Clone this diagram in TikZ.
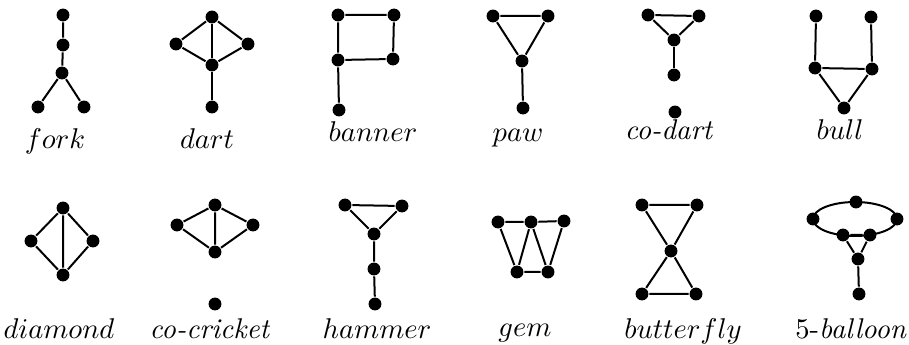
\documentclass[tikz,border=0pt]{standalone}
\usepackage{amsmath,amssymb}
\usepackage{tikz}

\begin{document}
\begin{tikzpicture}[x=0.35pt, y=-0.35pt, line width=0.7pt,
    vtx/.style={circle, fill=black, inner sep=0pt, minimum size=4.5pt},
    lbl/.style={anchor=base, inner sep=0pt}]
  \useasboundingbox (0,0) rectangle (909,345);

  % fork
  \node[vtx] (fa) at (63,15) {};
  \node[vtx] (fb) at (63,45) {};
  \node[vtx] (fc) at (62,73) {};
  \node[vtx] (fd) at (38,107) {};
  \node[vtx] (fe) at (84,107) {};
  \draw (fa) -- (fb) -- (fc) -- (fd);
  \draw (fc) -- (fe);
  \node[lbl] (lfork) at (55,149) {$fork$};

  % dart
  \node[vtx] (da) at (212,17) {};
  \node[vtx] (db) at (176,44) {};
  \node[vtx] (dc) at (248,44) {};
  \node[vtx] (dd) at (212,65) {};
  \node[vtx] (de) at (212,107) {};
  \draw (db) -- (da) -- (dc) -- (dd) -- (db);
  \draw (da) -- (dd) -- (de);
  \node[lbl] (ldart) at (207,149) {$dart$};

  % banner
  \node[vtx] (ba) at (338,15) {};
  \node[vtx] (bb) at (394,15) {};
  \node[vtx] (bc) at (393,59) {};
  \node[vtx] (bd) at (338,60) {};
  \node[vtx] (be) at (339,110) {};
  \draw (ba) -- (bb) -- (bc) -- (bd) -- (ba);
  \draw (bd) -- (be);
  \node[lbl] (lbanner) at (373,142) {$banner$};

  % paw
  \node[vtx] (pa) at (493,16) {};
  \node[vtx] (pb) at (548,16) {};
  \node[vtx] (pc) at (522,61) {};
  \node[vtx] (pd) at (523,108) {};
  \draw (pa) -- (pb) -- (pc) -- (pa);
  \draw (pc) -- (pd);
  \node[lbl] (lpaw) at (518,142) {$paw$};

  % co-dart
  \node[vtx] (ca) at (648,15) {};
  \node[vtx] (cb) at (699,16) {};
  \node[vtx] (cc) at (674,40) {};
  \node[vtx] (cd) at (674,75) {};
  \node[vtx] (ce) at (675,112) {};
  \draw (ca) -- (cb) -- (cc) -- (ca);
  \draw (cc) -- (cd);
  \node[lbl] (lcodart) at (669,140) {\textit{co-dart}};

  % bull
  \node[vtx] (ua) at (816,16) {};
  \node[vtx] (ub) at (871,17) {};
  \node[vtx] (uc) at (815,68) {};
  \node[vtx] (ud) at (872,69) {};
  \node[vtx] (ue) at (844,108) {};
  \draw (ua) -- (uc) -- (ud) -- (ub);
  \draw (uc) -- (ue) -- (ud);
  \node[lbl] (lbull) at (840,140) {$bull$};

  % diamond
  \node[vtx] (ma) at (63,208) {};
  \node[vtx] (mb) at (31,241) {};
  \node[vtx] (mc) at (93,241) {};
  \node[vtx] (md) at (63,275) {};
  \draw (ma) -- (mb) -- (md) -- (mc) -- (ma) -- (md);
  \node[lbl] (ldiamond) at (59,339) {$diamond$};

  % co-cricket
  \node[vtx] (ka) at (215,205) {};
  \node[vtx] (kb) at (177,225) {};
  \node[vtx] (kc) at (253,225) {};
  \node[vtx] (kd) at (215,252) {};
  \node[vtx] (ke) at (215,304) {};
  \draw (ka) -- (kb) -- (kd) -- (kc) -- (ka) -- (kd);
  \node[lbl] (lcocricket) at (210,339) {\textit{co-cricket}};

  % hammer
  \node[vtx] (ha) at (345,205) {};
  \node[vtx] (hb) at (402,206) {};
  \node[vtx] (hc) at (374,234) {};
  \node[vtx] (hd) at (374,269) {};
  \node[vtx] (he) at (375,304) {};
  \draw (ha) -- (hb) -- (hc) -- (ha);
  \draw (hc) -- (hd) -- (he);
  \node[lbl] (lhammer) at (377,339) {$hammer$};

  % gem
  \node[vtx] (ga) at (498,222) {};
  \node[vtx] (gb) at (531,222) {};
  \node[vtx] (gc) at (564,221) {};
  \node[vtx] (gd) at (517,272) {};
  \node[vtx] (ge) at (548,272) {};
  \draw (ga) -- (gb) -- (gc) -- (ge) -- (gd) -- (ga);
  \draw (gd) -- (gb) -- (ge);
  \node[lbl] (lgem) at (525,337) {$gem$};

  % butterfly
  \node[vtx] (ya) at (642,205) {};
  \node[vtx] (yb) at (697,205) {};
  \node[vtx] (yc) at (671,251) {};
  \node[vtx] (yd) at (642,294) {};
  \node[vtx] (ye) at (696,294) {};
  \draw (ya) -- (yb) -- (yc) -- (yd) -- (ye) -- (yc) -- (ya);
  \node[lbl] (lbutterfly) at (683,339) {$butterfly$};

  % 5-balloon
  \coordinate (o0) at (855,219);
  \draw (o0) ellipse [x radius=42, y radius=17];
  \node[vtx] (oa) at (856,202) {};
  \node[vtx] (ob) at (813,219) {};
  \node[vtx] (oc) at (897,219) {};
  \node[vtx] (od) at (843,235) {};
  \node[vtx] (oe) at (870,235) {};
  \node[vtx] (of) at (858,259) {};
  \node[vtx] (og) at (859,294) {};
  \draw (od) -- (oe) -- (of) -- (od);
  \draw (of) -- (og);
  \node[lbl] (lballoon) at (851,339) {5-\textit{balloon}};
\end{tikzpicture}
\end{document}
